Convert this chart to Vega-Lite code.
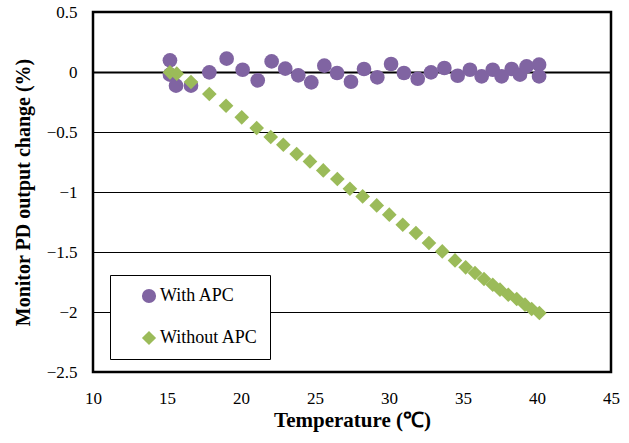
{
  "$schema": "https://vega.github.io/schema/vega-lite/v6.json",
  "width": 518,
  "height": 360,
  "autosize": "none",
  "padding": {"left": 93, "top": 12, "right": 18, "bottom": 71},
  "background": "white",
  "config": {
    "view": {"stroke": "black", "strokeWidth": 2.5},
    "font": "Liberation Serif",
    "legend": {"strokeColor": "black", "fillColor": "white"}
  },
  "datasets": {
    "pts": [
      {"t": 15.20, "v": 0.097, "series": "With APC"},
      {"t": 15.20, "v": -0.022, "series": "With APC"},
      {"t": 15.61, "v": -0.114, "series": "With APC"},
      {"t": 16.62, "v": -0.114, "series": "With APC"},
      {"t": 17.86, "v": -0.003, "series": "With APC"},
      {"t": 19.03, "v": 0.111, "series": "With APC"},
      {"t": 20.11, "v": 0.019, "series": "With APC"},
      {"t": 21.13, "v": -0.07, "series": "With APC"},
      {"t": 22.07, "v": 0.088, "series": "With APC"},
      {"t": 22.99, "v": 0.028, "series": "With APC"},
      {"t": 23.87, "v": -0.028, "series": "With APC"},
      {"t": 24.75, "v": -0.087, "series": "With APC"},
      {"t": 25.63, "v": 0.053, "series": "With APC"},
      {"t": 26.49, "v": -0.008, "series": "With APC"},
      {"t": 27.43, "v": -0.081, "series": "With APC"},
      {"t": 28.31, "v": 0.025, "series": "With APC"},
      {"t": 29.21, "v": -0.045, "series": "With APC"},
      {"t": 30.14, "v": 0.067, "series": "With APC"},
      {"t": 31.01, "v": -0.008, "series": "With APC"},
      {"t": 31.94, "v": -0.056, "series": "With APC"},
      {"t": 32.84, "v": -0.003, "series": "With APC"},
      {"t": 33.74, "v": 0.033, "series": "With APC"},
      {"t": 34.64, "v": -0.031, "series": "With APC"},
      {"t": 35.47, "v": 0.019, "series": "With APC"},
      {"t": 36.26, "v": -0.037, "series": "With APC"},
      {"t": 37.01, "v": 0.019, "series": "With APC"},
      {"t": 37.61, "v": -0.037, "series": "With APC"},
      {"t": 38.29, "v": 0.025, "series": "With APC"},
      {"t": 38.85, "v": -0.022, "series": "With APC"},
      {"t": 39.30, "v": 0.047, "series": "With APC"},
      {"t": 40.14, "v": 0.061, "series": "With APC"},
      {"t": 40.14, "v": -0.037, "series": "With APC"},
      {"t": 15.20, "v": -0.003, "series": "Without APC"},
      {"t": 15.66, "v": -0.014, "series": "Without APC"},
      {"t": 16.62, "v": -0.083, "series": "Without APC"},
      {"t": 17.86, "v": -0.183, "series": "Without APC"},
      {"t": 18.99, "v": -0.281, "series": "Without APC"},
      {"t": 20.05, "v": -0.378, "series": "Without APC"},
      {"t": 21.06, "v": -0.467, "series": "Without APC"},
      {"t": 22.01, "v": -0.542, "series": "Without APC"},
      {"t": 22.86, "v": -0.606, "series": "Without APC"},
      {"t": 23.76, "v": -0.683, "series": "Without APC"},
      {"t": 24.66, "v": -0.745, "series": "Without APC"},
      {"t": 25.56, "v": -0.82, "series": "Without APC"},
      {"t": 26.51, "v": -0.892, "series": "Without APC"},
      {"t": 27.36, "v": -0.973, "series": "Without APC"},
      {"t": 28.22, "v": -1.037, "series": "Without APC"},
      {"t": 29.17, "v": -1.112, "series": "Without APC"},
      {"t": 30.02, "v": -1.189, "series": "Without APC"},
      {"t": 30.93, "v": -1.273, "series": "Without APC"},
      {"t": 31.82, "v": -1.342, "series": "Without APC"},
      {"t": 32.70, "v": -1.425, "series": "Without APC"},
      {"t": 33.60, "v": -1.495, "series": "Without APC"},
      {"t": 34.46, "v": -1.57, "series": "Without APC"},
      {"t": 35.18, "v": -1.628, "series": "Without APC"},
      {"t": 35.81, "v": -1.675, "series": "Without APC"},
      {"t": 36.42, "v": -1.725, "series": "Without APC"},
      {"t": 37.01, "v": -1.773, "series": "Without APC"},
      {"t": 37.50, "v": -1.814, "series": "Without APC"},
      {"t": 38.06, "v": -1.856, "series": "Without APC"},
      {"t": 38.63, "v": -1.892, "series": "Without APC"},
      {"t": 39.19, "v": -1.939, "series": "Without APC"},
      {"t": 39.64, "v": -1.975, "series": "Without APC"},
      {"t": 40.16, "v": -2.008, "series": "Without APC"}
    ]
  },
  "data": {"name": "pts"},
  "mark": {"type": "point", "filled": true, "opacity": 1, "size": 215},
  "encoding": {
    "x": {
      "field": "t",
      "type": "quantitative",
      "scale": {"domain": [10, 45], "nice": false, "zero": false},
      "axis": {
        "values": [10, 15, 20, 25, 30, 35, 40, 45],
        "format": "~g",
        "title": "Temperature (℃)",
        "grid": false,
        "domain": false,
        "ticks": false,
        "tickSize": 0,
        "labelFont": "Liberation Serif",
        "labelFontSize": 17,
        "labelColor": "black",
        "labelPadding": 18,
        "labelFlush": false,
        "titleFont": "Liberation Serif",
        "titleFontSize": 21,
        "titleFontWeight": "bold",
        "titleColor": "black",
        "titlePadding": 3
      }
    },
    "y": {
      "field": "v",
      "type": "quantitative",
      "scale": {"domain": [-2.5, 0.5], "nice": false, "zero": false},
      "axis": {
        "values": [-2.5, -2, -1.5, -1, -0.5, 0, 0.5],
        "format": "~g",
        "title": "Monitor PD output change (%)",
        "grid": true,
        "gridColor": "black",
        "gridOpacity": 1,
        "gridWidth": {"condition": {"test": "datum.value === 0", "value": 2}, "value": 1},
        "domain": false,
        "ticks": false,
        "tickSize": 0,
        "labelFont": "Liberation Serif",
        "labelFontSize": 17,
        "labelColor": "black",
        "labelPadding": 16,
        "labelFlush": false,
        "titleFont": "Liberation Serif",
        "titleFontSize": 20,
        "titleFontWeight": "bold",
        "titleColor": "black",
        "titlePadding": 13
      }
    },
    "color": {
      "field": "series",
      "type": "nominal",
      "scale": {"domain": ["With APC", "Without APC"], "range": ["#8064A2", "#9BBB59"]},
      "legend": {
        "orient": "none",
        "legendX": 17,
        "legendY": 263,
        "title": null,
        "padding": 12,
        "symbolOffset": 18,
        "symbolSize": 200,
        "symbolStrokeWidth": 0,
        "labelFont": "Liberation Serif",
        "labelFontSize": 18,
        "labelColor": "black",
        "labelOffset": 2,
        "rowPadding": 24
      }
    },
    "shape": {
      "field": "series",
      "type": "nominal",
      "scale": {"domain": ["With APC", "Without APC"], "range": ["circle", "diamond"]},
      "legend": {
        "orient": "none",
        "legendX": 17,
        "legendY": 263,
        "title": null,
        "padding": 12,
        "symbolOffset": 18,
        "symbolSize": 200,
        "symbolStrokeWidth": 0,
        "labelFont": "Liberation Serif",
        "labelFontSize": 18,
        "labelColor": "black",
        "labelOffset": 2,
        "rowPadding": 24
      }
    }
  }
}
